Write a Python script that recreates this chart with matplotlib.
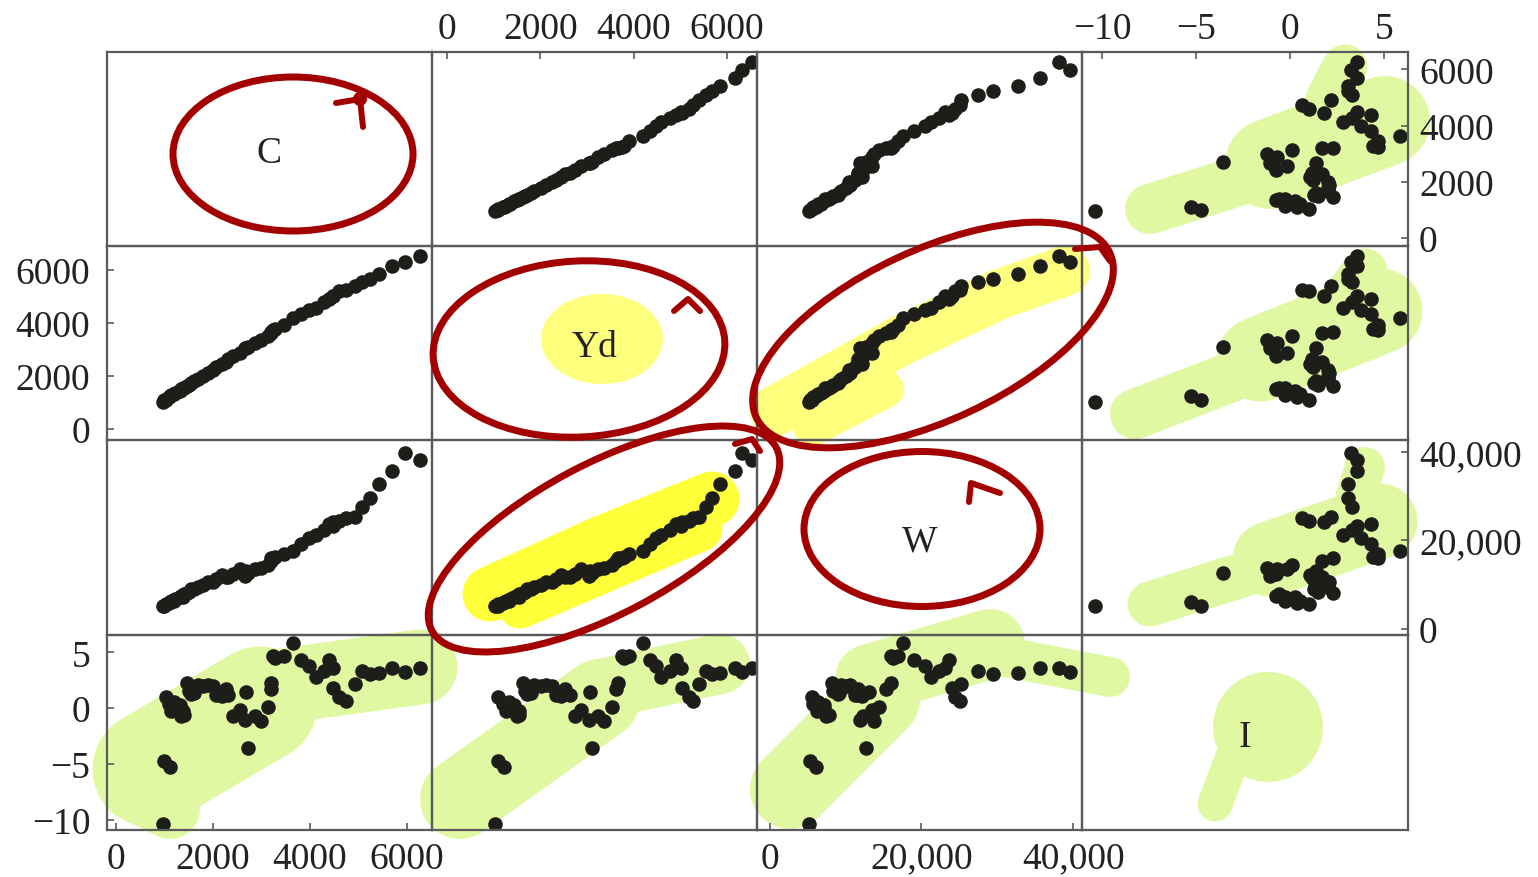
import numpy as np
import matplotlib
matplotlib.use('Agg')
import matplotlib.pyplot as plt
from matplotlib.patches import Ellipse, Circle

plt.rcParams['font.family'] = ['Liberation Serif', 'DejaVu Serif']

#=============== data (US annual, 1947-2000) ===============
names = ['C', 'Yd', 'W', 'I']

C = [976.4, 998.1, 1025.3, 1090.9, 1107.1, 1142.4, 1197.2, 1221.9, 1310.4, 1348.8,
     1381.8, 1393.0, 1470.7, 1510.8, 1541.2, 1617.3, 1684.0, 1784.8, 1897.6, 2006.1,
     2066.2, 2184.2, 2264.8, 2317.5, 2405.2, 2550.5, 2675.9, 2653.7, 2710.9, 2868.9,
     2992.1, 3124.7, 3203.2, 3193.0, 3236.0, 3275.5, 3454.3, 3640.6, 3820.9, 3981.2,
     4113.4, 4279.5, 4393.7, 4474.5, 4466.6, 4594.5, 4748.9, 4928.1, 5075.6, 5237.5,
     5423.9, 5683.7, 5968.4, 6257.8]
Yd = [1035.2, 1090.0, 1095.6, 1192.7, 1227.0, 1266.8, 1327.5, 1344.0, 1433.8, 1502.3,
      1539.5, 1553.7, 1623.8, 1664.8, 1720.0, 1803.5, 1871.5, 2006.9, 2131.0, 2244.6,
      2340.5, 2448.2, 2524.3, 2630.0, 2745.3, 2874.3, 3072.3, 3051.9, 3108.5, 3243.5,
      3360.7, 3527.5, 3628.6, 3658.0, 3741.1, 3791.7, 3906.9, 4207.6, 4347.8, 4486.6,
      4582.5, 4784.1, 4906.5, 5014.2, 5033.0, 5189.3, 5261.3, 5397.2, 5539.1, 5677.7,
      5854.5, 6168.6, 6320.0, 6539.2]
W = [5166.8, 5280.8, 5607.4, 5759.5, 6086.1, 6243.9, 6355.6, 6797.0, 7172.2, 7375.2,
     7315.3, 7870.0, 8188.1, 8351.8, 8971.9, 9091.5, 9436.1, 10003.4, 10562.8, 10522.0,
     11312.1, 12145.4, 11672.3, 11650.0, 12312.9, 13499.9, 13081.0, 11868.8, 12634.4, 13456.8,
     13786.3, 14450.5, 15340.0, 15965.0, 15965.0, 16312.5, 16944.8, 17526.7, 19068.3, 20530.0,
     21235.7, 22332.0, 23659.8, 23105.1, 24050.2, 24418.2, 25092.3, 25218.6, 27439.7, 29448.2,
     32664.1, 35587.0, 39591.3, 38167.7]
I = [-10.351, -4.720, 1.044, 0.407, -5.283, -0.277, 0.561, -0.138, 0.262, -0.736,
     -0.261, -0.575, 2.296, 1.511, 1.296, 1.396, 2.058, 2.027, 2.112, 2.020,
     1.213, 1.055, 1.732, 1.166, -0.712, -0.156, 1.414, -1.043, -3.534, -0.657,
     -1.190, 0.113, 1.704, 2.298, 4.704, 4.449, 4.691, 5.848, 4.331, 3.768,
     2.819, 3.287, 4.318, 3.595, 1.803, 1.007, 0.625, 2.206, 3.333, 3.083,
     3.120, 3.584, 3.245, 3.576]

data = [C, Yd, W, I]

xlims = [(-186, 6515), (-320, 6640), (-1660, 41150), (-11.06, 6.29)]
ylims = [(-285, 6620), (-415, 6906), (-1360, 42600), (-10.9, 6.55)]

ticks = [[0, 2000, 4000, 6000], [0, 2000, 4000, 6000],
         [0, 20000, 40000], [-10, -5, 0, 5]]
tick_labels = [['0', '2000', '4000', '6000'], ['0', '2000', '4000', '6000'],
               ['0', '20,000', '40,000'], ['\u221210', '\u22125', '0', '5']]

#=============== layout ===============
W_PX, H_PX = 1538, 878
fig = plt.figure(figsize=(W_PX / 100, H_PX / 100), dpi=100)
col_edges = [107, 432, 757, 1082, 1408]
row_edges = [53, 247, 441, 636, 831]

def px(l):
    return l * 0.72

# highlighter layer (behind panels)
hb = fig.add_axes([0, 0, 1, 1], zorder=0)
hb.set_xlim(0, W_PX)
hb.set_ylim(H_PX, 0)
hb.axis('off')

green = '#e0f8a2'
yel = '#ffff7e'
yel2 = '#ffff3a'

def stroke(ax, pts, color, w):
    xs, ys = zip(*pts)
    ax.plot(xs, ys, color=color, lw=px(w), solid_capstyle='round',
            solid_joinstyle='round')

# green strokes
stroke(hb, [(1150, 210), (1270, 172)], green, 50)
stroke(hb, [(1270, 165), (1385, 122)], green, 90)
stroke(hb, [(1328, 100), (1345, 68)], green, 45)
stroke(hb, [(1135, 415), (1260, 367)], green, 50)
stroke(hb, [(1260, 360), (1380, 312)], green, 85)
stroke(hb, [(1350, 292), (1365, 272)], green, 45)
stroke(hb, [(1150, 605), (1270, 567)], green, 45)
stroke(hb, [(1270, 560), (1380, 522)], green, 75)
stroke(hb, [(1355, 500), (1365, 468)], green, 40)
stroke(hb, [(150, 770), (260, 705)], green, 115)
stroke(hb, [(260, 690), (420, 668)], green, 75)
stroke(hb, [(130, 790), (170, 810)], green, 60)
stroke(hb, [(460, 800), (600, 700)], green, 80)
stroke(hb, [(600, 690), (720, 665)], green, 60)
stroke(hb, [(790, 790), (880, 700)], green, 80)
stroke(hb, [(870, 680), (990, 645)], green, 70)
stroke(hb, [(990, 655), (1110, 678)], green, 40)
hb.add_patch(Circle((1268, 728), 55, color=green, lw=0))
stroke(hb, [(1232, 760), (1215, 805)], green, 35)

# yellow strokes
hb.add_patch(Ellipse((602, 340), 122, 90, color=yel, lw=0))
stroke(hb, [(775, 412), (900, 342), (1000, 295), (1065, 272)], yel, 50)
stroke(hb, [(812, 428), (885, 390)], yel, 38)
stroke(hb, [(490, 595), (600, 545), (712, 500)], yel2, 55)
stroke(hb, [(520, 607), (700, 530)], yel2, 45)

#=============== scatter panels ===============
for i in range(4):
    for j in range(4):
        l = col_edges[j] / W_PX
        b = 1 - row_edges[i + 1] / H_PX
        w = (col_edges[j + 1] - col_edges[j]) / W_PX
        h = (row_edges[i + 1] - row_edges[i]) / H_PX
        ax = fig.add_axes([l, b, w, h], zorder=1)
        ax.set_facecolor('none')
        ax.set_xlim(xlims[j])
        ax.set_ylim(ylims[i])
        for s in ax.spines.values():
            s.set_color('#5a5a5a')
            s.set_linewidth(1.6)
        ax.set_xticks([])
        ax.set_yticks([])
        if i == j:
            ax.text(0.5, 0.5, names[i], transform=ax.transAxes, ha='center',
                    va='center_baseline', fontsize=27, color='#222222')
        else:
            ax.scatter(data[j], data[i], s=110, color='#1d1d1a', lw=0)

        tp = dict(direction='in', length=5, width=1.2, color='#5a5a5a',
                  labelsize=27, labelcolor='#222222', pad=8)
        if i == 0 and j in (1, 3):
            ax.set_xticks(ticks[j])
            ax.set_xticklabels(tick_labels[j])
            tp_top = dict(tp)
            tp_top['pad'] = 4
            ax.tick_params(axis='x', top=True, bottom=False, labeltop=True,
                           labelbottom=False, **tp_top)
        if i == 3 and j in (0, 2):
            ax.set_xticks(ticks[j])
            ax.set_xticklabels(tick_labels[j])
            ax.tick_params(axis='x', **tp)
        if j == 0 and i in (1, 3):
            ax.set_yticks(ticks[i])
            ax.set_yticklabels(tick_labels[i])
            tp2 = dict(tp)
            tp2['pad'] = 12
            ax.tick_params(axis='y', **tp2)
        if j == 3 and i in (0, 2):
            ax.set_yticks(ticks[i])
            ax.set_yticklabels(tick_labels[i])
            ax.tick_params(axis='y', right=True, left=False, labelright=True,
                           labelleft=False, **tp)

#=============== red pen layer ===============
hf = fig.add_axes([0, 0, 1, 1], zorder=2)
hf.set_facecolor('none')
hf.set_xlim(0, W_PX)
hf.set_ylim(H_PX, 0)
hf.axis('off')

red = '#a30000'
pen = px(7)
for (cx, cy, ew, eh, ang) in [(293, 155, 240, 154, 0),
                              (579, 350, 292, 176, -3),
                              (933, 336, 390, 170, -25),
                              (604, 540, 390, 150, -28),
                              (922, 530, 236, 155, 0)]:
    hf.add_patch(Ellipse((cx, cy), ew, eh, angle=ang, fill=False,
                         edgecolor=red, lw=pen))
# little hooks at the pen ends
hf.add_patch(Circle((360, 100), 7, color=red, lw=0))
stroke(hf, [(336, 104), (360, 100), (363, 128)], red, 6)
stroke(hf, [(674, 312), (688, 300), (700, 312)], red, 6)
stroke(hf, [(969, 503), (971, 484), (1000, 494)], red, 6)
stroke(hf, [(1075, 250), (1100, 248), (1110, 262)], red, 6)
stroke(hf, [(735, 445), (752, 440), (760, 452)], red, 6)

fig.savefig('out.png', dpi=100)
